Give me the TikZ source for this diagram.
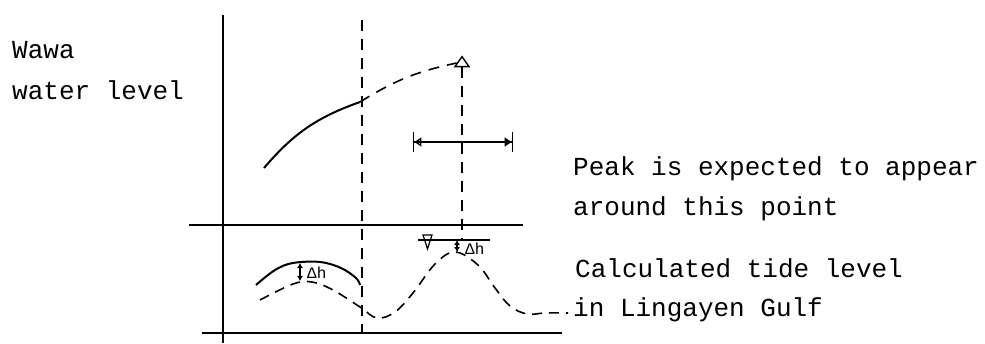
\documentclass[tikz,border=0pt]{standalone}
\usepackage{fontspec}
\setmonofont{Liberation Mono}
\usetikzlibrary{arrows.meta, positioning, shapes.geometric}

\begin{document}
\begin{tikzpicture}[
        x=1pt, y=-1pt,
        note/.style={font=\ttfamily\fontsize{26}{30}\selectfont, anchor=base west, inner sep=0pt},
        small/.style={font=\ttfamily\fontsize{16}{18}\selectfont, anchor=west, inner sep=0pt},
        axis/.style={line width=1.8pt},
        guide/.style={line width=1.6pt, dash pattern=on 11pt off 8pt},
        tide/.style={line width=1.6pt, dash pattern=on 10pt off 7pt},
        curve/.style={line width=2pt},
        delta/.style={{Latex[length=5pt,width=6pt]}-{Latex[length=5pt,width=6pt]}, line width=1.5pt},
        window/.style={{Bar[width=20pt]Triangle[open,length=7pt,width=9pt]}-{Triangle[length=7pt,width=9pt]Bar[width=20pt]}, line width=1.4pt}
    ]
        \useasboundingbox (0,0) rectangle (985,343);

        % Labels
        \node[note] (wawa) at (12,58) {Wawa};
        \node[note] (level) at (12,99) {water level};
        \node[note] (peaktxt) at (573,175) {Peak is expected to appear};
        \node[note] (around) at (573,215) {around this point};
        \node[note] (calc) at (575,277) {Calculated tide level};
        \node[note] (gulf) at (573,316) {in Lingayen Gulf};

        % Axes
        \coordinate (top) at (223,15);
        \coordinate (bottom) at (223,343);
        \coordinate (midL) at (189,225);
        \coordinate (midR) at (523,225);
        \coordinate (lowL) at (202,333);
        \coordinate (lowR) at (562,333);
        \draw[axis] (top) -- (bottom);
        \draw[axis] (midL) -- (midR);
        \draw[axis] (lowL) -- (lowR);

        % Present time
        \coordinate (nowtop) at (362,20);
        \coordinate (nowbot) at (362,333);
        \draw[guide] (nowtop) -- (nowbot);

        % Wawa water level, observed and forecast
        \coordinate (start) at (264,168);
        \coordinate (cut) at (360,102);
        \node[draw, isosceles triangle, shape border rotate=90, isosceles triangle apex angle=70,
              minimum width=11pt, minimum height=10pt, inner sep=0pt, line width=1.4pt] (peak) at (462,63) {};
        \draw[curve] (start) to[bend left=15] (cut);
        \draw[guide] (cut) to[bend left=10] (peak.west);

        % Expected time range of the peak
        \coordinate (winL) at (413,142);
        \coordinate (winR) at (513,142);
        \draw[window] (winL) -- (winR);

        % Water level in the gulf
        \coordinate (wlL) at (418,240);
        \coordinate (wlR) at (490,240);
        \coordinate (wlpeak) at (462,240);
        \draw[line width=1.4pt] (wlL) -- (wlR);
        \draw[line width=1.2pt] (423,235) -- (432,235) -- (427.5,249) -- cycle;
        \draw[guide] (peak.south) -- (wlpeak);

        % Tide curves
        \draw[curve] plot[smooth, tension=0.6] coordinates {(256,285) (275,270) (293,263) (320,262) (341,268) (356,278) (360,285)};
        \draw[tide] plot[smooth, tension=0.6] coordinates {(260,300) (293,284) (312,282) (333,290) (360,307) (377,318) (395,312) (413,293) (435,264) (455,252) (478,265) (495,288) (510,306) (527,314) (545,313) (568,313)};

        % Differences
        \coordinate (dhA) at (300,263);
        \coordinate (dhB) at (300,281);
        \coordinate (dhC) at (457,240);
        \coordinate (dhD) at (457,252);
        \draw[delta] (dhA) -- (dhB);
        \draw[delta] (dhC) -- (dhD);
        \node[small] (dh1) at (307,273) {Δh};
        \node[small] (dh2) at (465,249) {Δh};

    \end{tikzpicture}
\end{document}
